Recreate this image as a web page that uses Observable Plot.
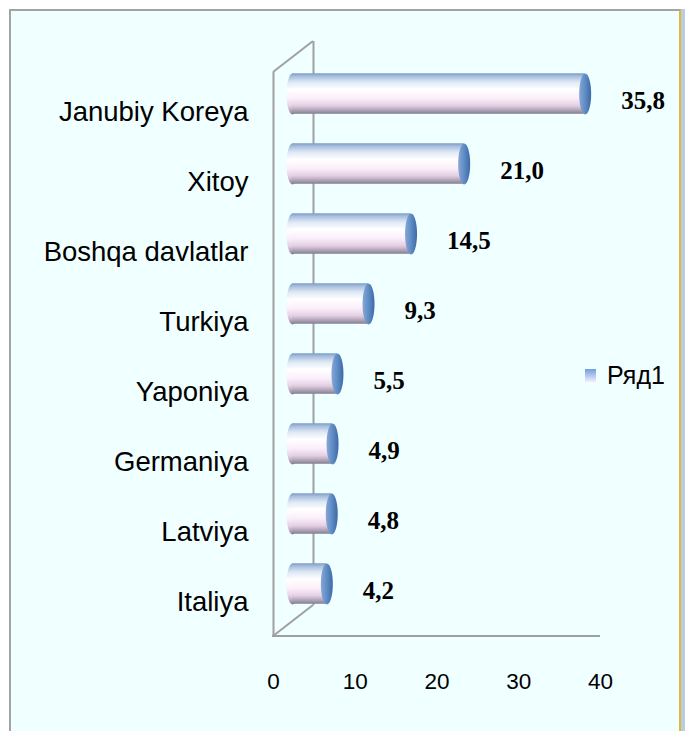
<!DOCTYPE html>
<html><head><meta charset="utf-8">
<script src="https://cdn.jsdelivr.net/npm/d3@7"></script>
<script src="https://cdn.jsdelivr.net/npm/@observablehq/plot@0.6"></script>
<style>
html,body{margin:0;padding:0;background:#fff;}
#wrap{position:relative;width:685px;height:731px;overflow:hidden;}
#panel{position:absolute;left:9px;top:9px;width:668px;height:730px;background:#f0ffff;border-top:2px solid #a3a3a3;border-left:2px solid #a3a3a3;border-right:2px solid #e6b63a;}
#edge{position:absolute;left:681px;top:9px;width:4px;height:722px;background:#b8cce4;}
#chart{position:absolute;left:0;top:0;}
#legend{position:absolute;left:585px;top:361px;font:25px "Liberation Sans",Arial,sans-serif;color:#000;display:flex;align-items:center;}
#legend .sw{width:11px;height:13px;margin-right:11px;background:linear-gradient(#6f9ee0,#f4eefa);}
</style></head>
<body>
<div id="wrap">
  <div id="panel"></div>
  <div id="edge"></div>
  <div id="chart"></div>
  <div id="legend"><span class="sw"></span><span>Ряд1</span></div>
</div>
<script>
const categories = ["Janubiy Koreya", "Xitoy", "Boshqa davlatlar", "Turkiya", "Yaponiya", "Germaniya", "Latviya", "Italiya"];
const values = [35.8, 21.0, 14.5, 9.3, 5.5, 4.9, 4.8, 4.2];
const valueLabels = ["35,8", "21,0", "14,5", "9,3", "5,5", "4,9", "4,8", "4,2"];
const xTicks = [0, 10, 20, 30, 40];

const data = categories.map((name, i) => ({name, value: values[i], label: valueLabels[i]}));

const DEPTH_X = 40, DEPTH_Y = -31;   // back wall offset
const BAR_DX = 19, BAR_DY = -15.5;   // bars at mid depth
const CAP_RX = 6, CAP_RY = 20.5;

const ellipseSymbol = {
  draw(ctx) {
    const rx = CAP_RX, ry = CAP_RY, k = 0.5523;
    ctx.moveTo(rx, 0);
    ctx.bezierCurveTo(rx, k * ry, k * rx, ry, 0, ry);
    ctx.bezierCurveTo(-k * rx, ry, -rx, k * ry, -rx, 0);
    ctx.bezierCurveTo(-rx, -k * ry, -k * rx, -ry, 0, -ry);
    ctx.bezierCurveTo(k * rx, -ry, rx, -k * ry, rx, 0);
    ctx.closePath();
  }
};

function defsMark() {
  const defs = d3.create("svg:defs");
  const body = defs.append("linearGradient").attr("id", "cylBody").attr("x1", 0).attr("x2", 0).attr("y1", 0).attr("y2", 1);
  [[0, "#7d9dc6"], [0.08, "#a9c0df"], [0.22, "#dfe9f6"], [0.4, "#ffffff"], [0.62, "#fbeefa"], [0.8, "#e2d0e2"], [0.93, "#a99cb0"], [1, "#7f7f8f"]]
    .forEach(([o, c]) => body.append("stop").attr("offset", o).attr("stop-color", c));
  const cap = defs.append("linearGradient").attr("id", "cylCap").attr("x1", 0).attr("x2", 1).attr("y1", 0).attr("y2", 0);
  [[0, "#86a8d6"], [0.5, "#5f8cc4"], [1, "#3d6aa6"]]
    .forEach(([o, c]) => cap.append("stop").attr("offset", o).attr("stop-color", c));
  return defs.node();
}

function wallDiagonals(index, scales, values, dimensions) {
  const x0 = scales.x(0);
  const x1 = scales.x(xTicks[xTicks.length - 1]);
  const yTop = dimensions.marginTop;
  const yBot = dimensions.height - dimensions.marginBottom;
  const g = d3.create("svg:g").attr("stroke", "#a0a0a0").attr("stroke-width", 2).attr("fill", "none");
  g.append("line").attr("x1", x0).attr("y1", yTop).attr("x2", x0 + DEPTH_X).attr("y2", yTop + DEPTH_Y);
  g.append("line").attr("x1", x0).attr("y1", yBot).attr("x2", x0 + DEPTH_X).attr("y2", yBot + DEPTH_Y);
  g.append("line").attr("x1", x0 - 1).attr("y1", yBot).attr("x2", x1).attr("y2", yBot);
  return g.node();
}

const chart = Plot.plot({
  width: 685,
  height: 731,
  marginLeft: 273,
  marginRight: 85,
  marginTop: 72,
  marginBottom: 95,
  style: {background: "transparent", overflow: "visible"},
  x: {domain: [0, 40]},
  y: {domain: categories, padding: 0},
  marks: [
    defsMark,
    Plot.ruleX([0], {dx: DEPTH_X, dy: DEPTH_Y, stroke: "#a0a0a0", strokeWidth: 2}),
    wallDiagonals,
    Plot.ruleX([0], {stroke: "#a0a0a0", strokeWidth: 2}),
    Plot.dot(data, {x: () => 0, y: "name", symbol: ellipseSymbol, r: 5, fill: "url(#cylBody)", stroke: "none", dx: BAR_DX, dy: BAR_DY}),
    Plot.barX(data, {x: "value", y: "name", fill: "url(#cylBody)", insetTop: 14.75, insetBottom: 14.75, dx: BAR_DX, dy: BAR_DY}),
    Plot.dot(data, {x: "value", y: "name", symbol: ellipseSymbol, r: 5, fill: "url(#cylCap)", stroke: "none", dx: BAR_DX, dy: BAR_DY}),
    Plot.text(data, {x: "value", y: "name", text: "label", textAnchor: "start", dx: 55, dy: -8.5,
      fontFamily: "Liberation Serif, Times New Roman, serif", fontWeight: "bold", fontSize: 25, fill: "#000"}),
    Plot.axisY({tickSize: 0, tickPadding: 25, dy: 3, fontSize: 27.5, fontFamily: "Liberation Sans, Arial, sans-serif", label: null, fill: "#000"}),
    Plot.axisX({ticks: xTicks, tickSize: 0, tickPadding: 37, fontSize: 22.5, fontFamily: "Liberation Sans, Arial, sans-serif", label: null, tickFormat: d => String(d), fill: "#000"})
  ]
});
document.getElementById("chart").appendChild(chart);
</script>
</body></html>
